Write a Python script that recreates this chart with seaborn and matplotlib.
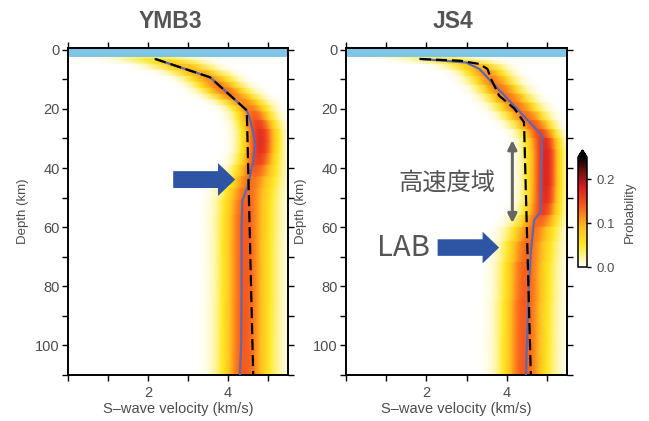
import numpy as np
import matplotlib
matplotlib.use("Agg")
import matplotlib.pyplot as plt
from matplotlib.colors import LinearSegmentedColormap
from matplotlib.patches import FancyArrow
from matplotlib.ticker import MultipleLocator, FixedLocator, FuncFormatter
import seaborn as sns

# ---------------- data ----------------
stations = ["YMB3", "JS4"]

# YMB3: mean model (blue), reference model (dashed)
ymb3_mean_depth = [3.1, 9.3, 20.5, 24, 28, 32, 38, 42, 46, 51, 60, 80, 100, 110]
ymb3_mean_vel = [2.18, 3.55, 4.47, 4.56, 4.63, 4.68, 4.63, 4.56, 4.50, 4.36, 4.34, 4.34, 4.33, 4.30]
ymb3_ref_depth = [3.1, 9.3, 20.5, 110]
ymb3_ref_vel = [2.18, 3.55, 4.47, 4.63]
# YMB3 posterior probability (per depth node: centre, left/right spread, peak)
ymb3_pdf_depth = [2.6, 3.5, 5, 7, 9, 11, 13, 15, 17, 19, 21, 24, 27, 31, 35, 39, 43, 47, 51, 56, 65, 85, 110]
ymb3_pdf_center = [2.0, 2.3, 2.7, 3.1, 3.45, 3.65, 3.85, 4.05, 4.3, 4.5, 4.62, 4.72, 4.8, 4.82, 4.8, 4.72,
                   4.6, 4.5, 4.45, 4.43, 4.42, 4.42, 4.40]
ymb3_pdf_wl = [0.7, 0.6, 0.45, 0.4, 0.38, 0.36, 0.36, 0.36, 0.35, 0.33, 0.3, 0.3, 0.3, 0.3, 0.3, 0.32,
               0.35, 0.37, 0.38, 0.38, 0.38, 0.38, 0.38]
ymb3_pdf_wr = [0.7, 0.6, 0.45, 0.4, 0.38, 0.36, 0.36, 0.36, 0.35, 0.33, 0.3, 0.3, 0.3, 0.3, 0.3, 0.35,
               0.42, 0.45, 0.45, 0.45, 0.45, 0.45, 0.45]
ymb3_pdf_peak = [0.03, 0.06, 0.09, 0.10, 0.11, 0.12, 0.13, 0.13, 0.12, 0.12, 0.13, 0.15, 0.165, 0.17, 0.165,
                 0.15, 0.13, 0.13, 0.135, 0.14, 0.14, 0.14, 0.14]

# JS4
js4_mean_depth = [3.1, 4.3, 6.5, 29, 55, 57.6, 68.7, 80, 100, 110]
js4_mean_vel = [1.84, 2.99, 3.32, 4.88, 4.84, 4.68, 4.60, 4.55, 4.50, 4.48]
js4_ref_depth = [3.1, 3.7, 4.8, 6.5, 9.9, 15.5, 19.9, 24.5, 60, 110]
js4_ref_vel = [1.84, 2.83, 3.32, 3.52, 3.61, 3.81, 4.19, 4.43, 4.50, 4.60]
js4_pdf_depth = [2.6, 3.5, 5, 7, 9, 12, 15, 18, 21, 24, 27, 30, 34, 40, 46, 52, 56, 60, 65, 72, 85, 110]
js4_pdf_center = [1.9, 2.5, 3.1, 3.4, 3.55, 3.75, 3.96, 4.17, 4.37, 4.58, 4.78, 4.93, 4.98, 4.98, 4.98,
                  4.95, 4.88, 4.68, 4.55, 4.48, 4.45, 4.42]
js4_pdf_wl = [0.7, 0.55, 0.42, 0.36, 0.34, 0.33, 0.33, 0.33, 0.33, 0.32, 0.3, 0.3, 0.3, 0.3, 0.3, 0.3,
              0.32, 0.35, 0.36, 0.36, 0.36, 0.36]
js4_pdf_wr = [0.7, 0.55, 0.42, 0.36, 0.34, 0.33, 0.33, 0.33, 0.33, 0.3, 0.27, 0.25, 0.25, 0.25, 0.25, 0.26,
              0.3, 0.38, 0.42, 0.42, 0.42, 0.42]
js4_pdf_peak = [0.03, 0.06, 0.09, 0.11, 0.12, 0.13, 0.13, 0.13, 0.13, 0.14, 0.15, 0.165, 0.175, 0.175, 0.175,
                0.165, 0.15, 0.13, 0.13, 0.135, 0.14, 0.14]

water_depth = 2.6
x_tick_labels = [2, 4]
depth_tick_labels = [0, 20, 40, 60, 80, 100]
cbar_ticks = [0.0, 0.1, 0.2]
cbar_max = 0.25

panels = {
    "YMB3": dict(mean=(ymb3_mean_vel, ymb3_mean_depth), ref=(ymb3_ref_vel, ymb3_ref_depth),
                 pdf=(ymb3_pdf_depth, ymb3_pdf_center, ymb3_pdf_wl, ymb3_pdf_wr, ymb3_pdf_peak)),
    "JS4": dict(mean=(js4_mean_vel, js4_mean_depth), ref=(js4_ref_vel, js4_ref_depth),
                pdf=(js4_pdf_depth, js4_pdf_center, js4_pdf_wl, js4_pdf_wr, js4_pdf_peak)),
}

# ---------------- style ----------------
sns.set_theme(style="ticks")
plt.rcParams["font.family"] = ["Liberation Sans", "DejaVu Sans"]
GRAY = "#4d4d4d"
BLUE_LINE = "#6068ac"
ARROW_BLUE = "#2e54a4"

cmap = LinearSegmentedColormap.from_list(
    "prob",
    [(0.0, "#ffffff"), (0.08, "#fff6a8"), (0.20, "#ffe824"), (0.36, "#ffc020"),
     (0.46, "#ff8c1c"), (0.58, "#f45020"), (0.72, "#dc2020"), (0.88, "#681010"), (1.0, "#000000")])

fig = plt.figure(figsize=(6.49, 4.21), dpi=100)
W, H = 649, 421
ax_rects = [[68 / W, 1 - 375 / H, 220 / W, 327 / H],
            [346 / W, 1 - 375 / H, 221 / W, 327 / H]]
title_x = [170 / W, 453 / W]

v = np.linspace(0, 5.5, 276)
mesh = None
axes = []
for i, name in enumerate(stations):
    ax = fig.add_axes(ax_rects[i])
    axes.append(ax)
    p = panels[name]
    d, c, wl, wr, pk = [np.asarray(a, dtype=float) for a in p["pdf"]]
    cc = c[:, None]
    w = np.where(v[None, :] < cc, wl[:, None], wr[:, None])
    P = pk[:, None] * np.exp(-0.5 * ((v[None, :] - cc) / w) ** 2)
    V, D = np.meshgrid(v, d)
    mesh = ax.pcolormesh(V, D, P, shading="gouraud", cmap=cmap, vmin=0, vmax=cbar_max, rasterized=True)

    ax.axhspan(-1, water_depth, color="#7fc6e4", zorder=2, lw=0)

    sns.lineplot(x=p["mean"][0], y=p["mean"][1], sort=False, estimator=None, ax=ax,
                 color=BLUE_LINE, lw=1.6, zorder=3)
    sns.lineplot(x=p["ref"][0], y=p["ref"][1], sort=False, estimator=None, ax=ax,
                 color="black", lw=1.6, linestyle=(0, (5, 2.2)), zorder=4)

    ax.set_xlim(0, 5.5)
    ax.set_ylim(110, -0.6)
    ax.xaxis.set_major_locator(FixedLocator(x_tick_labels))
    ax.xaxis.set_minor_locator(MultipleLocator(1))
    ax.yaxis.set_major_locator(FixedLocator(depth_tick_labels))
    ax.yaxis.set_minor_locator(MultipleLocator(10))
    ax.tick_params(which="both", direction="out", length=4, width=1, color="black",
                   top=True, right=True, labelcolor=GRAY, labelsize=10.5, pad=2)
    ax.tick_params(axis="x", pad=4)
    for s in ax.spines.values():
        s.set_color("black")
        s.set_linewidth(1.4)
        s.set_visible(True)
    ax.set_xlabel("S\u2013wave velocity (km/s)", fontsize=10.5, color=GRAY, labelpad=1)
    ax.set_ylabel("Depth (km)", fontsize=9.5, color=GRAY, labelpad=4)
    ax.grid(False)
    fig.text(title_x[i], 1 - 22 / H, name, ha="center", va="center", fontsize=16.5,
             fontweight="bold", color="#555555")

# ---------------- annotations ----------------
ax0, ax1 = axes
ax0.add_patch(FancyArrow(2.63, 43.9, 1.55, 0, width=5.7, head_width=11.1, head_length=0.43,
                         length_includes_head=True, color=ARROW_BLUE, lw=0, zorder=6))
ax1.add_patch(FancyArrow(2.28, 66.9, 1.53, 0, width=5.6, head_width=10.7, head_length=0.41,
                         length_includes_head=True, color=ARROW_BLUE, lw=0, zorder=6))
ax1.annotate("", xy=(4.14, 30.6), xytext=(4.14, 58.6),
             arrowprops=dict(arrowstyle="<|-|>", color="#666666", lw=2.2, mutation_scale=13,
                             shrinkA=0, shrinkB=0), zorder=6)
ax1.text(2.5, 45.1, "高速度域", ha="center", va="center", fontsize=17.5, color="#555555",
         family=["Noto Sans CJK JP", "DejaVu Sans"], zorder=6)
ax1.text(1.43, 67.2, "LAB", ha="center", va="center", fontsize=21, color="#555555",
         family=["Noto Sans CJK JP", "DejaVu Sans"], zorder=6)

# ---------------- colorbar ----------------
cax = fig.add_axes([578 / W, 1 - 267 / H, 9 / W, 117 / H])
cb = fig.colorbar(mesh, cax=cax, extend="max", extendfrac=0.065, ticks=cbar_ticks)
cb.outline.set_edgecolor("black")
cb.outline.set_linewidth(1.1)
cb.ax.yaxis.set_major_formatter(FuncFormatter(lambda x, _: f"{x:.1f}"))
cb.ax.tick_params(length=3, width=1, color="black", labelcolor=GRAY, labelsize=9.5, pad=4)
cb.set_label("Probability", fontsize=9.5, color=GRAY, labelpad=6)

fig.savefig("out.png", dpi=100)
